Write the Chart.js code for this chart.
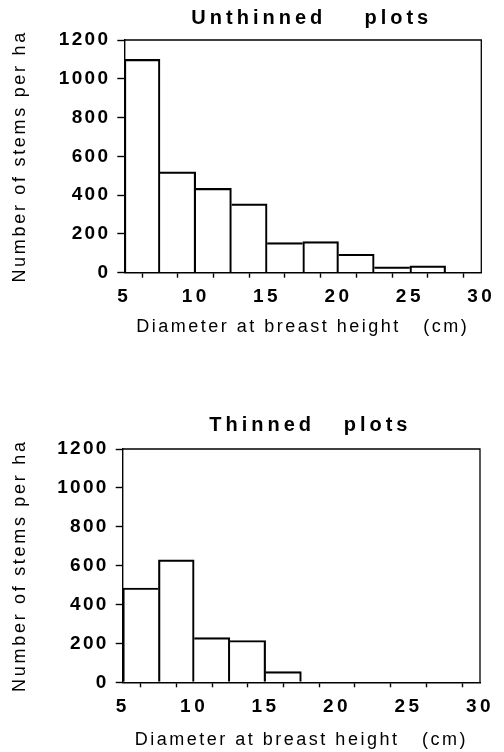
<!DOCTYPE html>
<html><head><meta charset="utf-8">
<script src="https://cdn.jsdelivr.net/npm/chart.js@4"></script>
<style>html,body{margin:0;padding:0;background:#fff;width:504px;height:752px;overflow:hidden;} canvas{position:absolute;left:0;}</style>
</head><body>
<canvas id="c1" width="504" height="345" style="top:0px"></canvas>
<canvas id="c2" width="504" height="352" style="top:400px"></canvas>
<script>
// ---- data ----
const binEdges = [5, 7.5, 10, 12.5, 15, 17.5, 20, 22.5, 25, 27.5, 30];
const unthinnedStems = [1100, 520, 435, 355, 155, 160, 95, 30, 35, 0];
const thinnedStems = [485, 630, 230, 215, 55, 0, 0, 0, 0, 0];
const yTickValues = [0, 200, 400, 600, 800, 1000, 1200];
const xTickLabels = [5, 10, 15, 20, 25, 30];
const chartTitles = ['Unthinned    plots', 'Thinned   plots'];
const xAxisTitle = 'Diameter at breast height   (cm)';
const yAxisTitle = 'Number of stems per ha';

const FAMILY = '"Liberation Sans", Arial, Helvetica, sans-serif';
Chart.defaults.color = '#000';
Chart.defaults.font.family = FAMILY;

function wrap(obj, method, spacing, dx) {
  if (!obj || obj['__w_' + method]) return;
  const orig = obj[method];
  obj[method] = function (...args) {
    const ctx = this.ctx;
    ctx.save();
    try { ctx.letterSpacing = spacing; } catch (e) {}
    if (dx) ctx.translate(dx, 0);
    const r = orig.apply(this, args);
    ctx.restore();
    return r;
  };
  obj['__w_' + method] = true;
}

const spacingPlugin = {
  id: 'spacing',
  beforeDraw(chart) {
    wrap(chart.titleBlock, 'draw', '4px', 9);
    wrap(chart.scales.x, 'drawLabels', '3.5px', 0);
    wrap(chart.scales.y, 'drawLabels', '2.3px', 0);
    wrap(chart.scales.x, 'drawTitle', '2.5px', 0);
    wrap(chart.scales.y, 'drawTitle', '2.7px', 0);
  }
};

const framePlugin = {
  id: 'frame',
  afterDraw(chart) {
    const {ctx, chartArea: a} = chart;
    ctx.save();
    ctx.strokeStyle = '#000';
    ctx.lineWidth = 1.3;
    ctx.beginPath();
    ctx.moveTo(a.left, a.top);
    ctx.lineTo(a.right, a.top);
    ctx.lineTo(a.right, a.bottom);
    ctx.stroke();
    ctx.restore();
  }
};

function makeChart(id, values, title, g) {
  const pts = values.map((v, i) => ({x: (binEdges[i] + binEdges[i + 1]) / 2, y: v}));
  const bw = 1.5;
  return new Chart(document.getElementById(id), {
    type: 'bar',
    data: {
      datasets: [{
        data: pts,
        backgroundColor: 'rgba(255,255,255,0)',
        borderColor: '#000',
        borderWidth: c => {
          const i = c.dataIndex;
          const v = values[i];
          const prev = i > 0 ? values[i - 1] : 0;
          const next = i < values.length - 1 ? values[i + 1] : 0;
          return {top: bw, bottom: 0, left: v >= prev ? bw : 0, right: v > next ? bw : 0};
        },
        borderSkipped: false,
        barPercentage: 1,
        categoryPercentage: 1
      }]
    },
    options: {
      responsive: false,
      animation: false,
      devicePixelRatio: 1,
      events: [],
      layout: {padding: {left: 0, right: g.right, top: 0, bottom: 0}},
      plugins: {
        legend: {display: false},
        tooltip: {enabled: false},
        title: {
          display: true, text: title, fullSize: false, color: '#000',
          font: {family: FAMILY, size: 20, weight: 'bold', lineHeight: 1.2},
          padding: {top: g.tpt, bottom: g.tpb}
        }
      },
      scales: {
        x: {
          type: 'linear', min: binEdges[0], max: binEdges[binEdges.length - 1], offset: false,
          grid: {drawOnChartArea: false, drawTicks: true, tickLength: 5, tickWidth: 1.4, tickColor: '#000'},
          border: {display: true, color: '#000', width: 1.4},
          ticks: {
            stepSize: 2.5, autoSkip: false, maxRotation: 0, color: '#000', padding: g.xpad,
            font: {family: FAMILY, size: 19, weight: 'bold', lineHeight: 1.2},
            callback: v => xTickLabels.includes(v) ? String(v) : ''
          },
          title: {display: true, text: xAxisTitle, color: '#000',
            font: {family: FAMILY, size: 18, lineHeight: 1.2}, padding: {top: 0, bottom: g.xtpb}},
          afterFit: s => { s.height = g.xh; }
        },
        y: {
          min: 0, max: yTickValues[yTickValues.length - 1],
          afterBuildTicks: s => { s.ticks = yTickValues.map(v => ({value: v})); },
          grid: {drawOnChartArea: false, drawTicks: true, tickLength: 7, tickWidth: 1.4, tickColor: '#000'},
          border: {display: true, color: '#000', width: 1.4},
          ticks: {color: '#000', padding: 7, font: {family: FAMILY, size: 19, weight: 'bold', lineHeight: 1.2},
            callback: v => String(v)},
          title: {display: true, text: yAxisTitle, color: '#000',
            font: {family: FAMILY, size: 18, lineHeight: 1.2}, padding: {top: 9.2, bottom: 0}},
          afterFit: s => { s.width = g.yw; }
        }
      }
    },
    plugins: [spacingPlugin, framePlugin]
  });
}

makeChart('c1', unthinnedStems, chartTitles[0], {right: 22.7, tpt: 6, tpb: 10, xh: 72.3, xtpb: 7.2, xpad: 7.6, yw: 124.3});
makeChart('c2', thinnedStems, chartTitles[1], {right: 24, tpt: 13, tpb: 12, xh: 69.7, xtpb: 0.7, xpad: 8.3, yw: 122.7});
</script>
</body></html>
